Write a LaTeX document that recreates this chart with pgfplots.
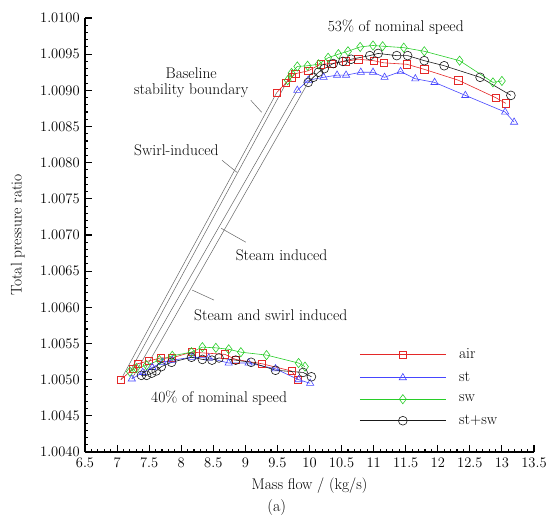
\documentclass[border=0pt]{standalone}
\usepackage{pgfplots}
\pgfplotsset{compat=1.18}
\definecolor{cair}{RGB}{228,40,40}
\definecolor{cst}{RGB}{70,70,255}
\definecolor{csw}{RGB}{40,205,40}
\definecolor{cstsw}{RGB}{25,25,25}
\begin{document}
\fontsize{15.5bp}{18bp}\selectfont
\begin{tikzpicture}
\path[use as bounding box] (-85bp,-73bp) rectangle (462bp,452bp);
\begin{axis}[at={(0,0)}, anchor=south west, scale only axis,
  width=449bp, height=434bp,
  xmin=6.5, xmax=13.5, ymin=1.004, ymax=1.010,
  axis x line*=bottom, axis y line*=left,
  axis line style={line width=1.4pt},
  tick align=inside,
  major tick length=7bp, minor tick length=3.5bp,
  every tick/.style={line width=1.1pt, black},
  minor tick num=4,
  tick label style={font=\fontsize{14.5bp}{17bp}\selectfont},
  xtick={6.5,7,7.5,8,8.5,9,9.5,10,10.5,11,11.5,12,12.5,13,13.5},
  xticklabels={6.5,7,7.5,8,8.5,9,9.5,10,10.5,11,11.5,12,12.5,13,13.5},
  ytick={1.004,1.0045,1.005,1.0055,1.006,1.0065,1.007,1.0075,1.008,1.0085,1.009,1.0095,1.01},
  yticklabels={1.0040,1.0045,1.0050,1.0055,1.0060,1.0065,1.0070,1.0075,1.0080,1.0085,1.0090,1.0095,1.0100},
  scaled y ticks=false,
  xlabel={Mass flow / (kg/s)},
  ylabel={Total pressure ratio},
  xlabel style={yshift=0bp},
  ylabel style={yshift=5bp},
  clip=false,
  legend style={draw=none, fill=none, at={(0.611,0.246)}, anchor=north west,
    row sep=5bp, legend cell align=left, inner sep=0pt,
    nodes={inner sep=3bp},
    /tikz/every odd column/.append style={column sep=10bp}},
  legend image code/.code={\draw[mark repeat=2,mark phase=2] plot coordinates {(0bp,0bp) (43bp,0bp) (86bp,0bp)};},
  every axis plot/.append style={line width=0.6pt},
]
% stability boundary lines
\addplot[gray!80!black, line width=0.5pt, forget plot] coordinates {(7.06,1.00500) (9.49,1.00897)};
\addplot[gray!80!black, line width=0.5pt, forget plot] coordinates {(7.20,1.00511) (9.66,1.00914)};
\addplot[gray!80!black, line width=0.5pt, forget plot] coordinates {(7.23,1.00501) (9.81,1.00900)};
\addplot[gray!80!black, line width=0.5pt, forget plot] coordinates {(7.38,1.00506) (9.98,1.00911)};
% 53% speed
\addplot[cair, mark=square, mark size=3.6bp] coordinates {
(9.49,1.00897) (9.63,1.00910) (9.72,1.00918) (9.78,1.00923) (9.98,1.00927) (10.17,1.00936) (10.34,1.00937) (10.56,1.00940) (10.76,1.00943) (11.00,1.00941) (11.16,1.00938) (11.52,1.00936) (11.79,1.00929) (12.32,1.00914) (12.90,1.00890) (13.06,1.00882)};
\addlegendentry{air}
\addplot[cst, mark=triangle, mark size=4.2bp] coordinates {
(9.81,1.00900) (9.98,1.00914) (10.22,1.00918) (10.43,1.00921) (10.57,1.00921) (10.80,1.00925) (10.99,1.00925) (11.17,1.00918) (11.42,1.00926) (11.65,1.00916) (11.95,1.00911) (12.43,1.00893) (13.05,1.00870) (13.19,1.00856)};
\addlegendentry{st}
\addplot[csw, mark=diamond, mark size=4.6bp] coordinates {
(9.66,1.00914) (9.72,1.00924) (9.81,1.00933) (9.97,1.00934) (10.14,1.00936) (10.29,1.00945) (10.45,1.00950) (10.60,1.00954) (10.79,1.00960) (10.99,1.00962) (11.14,1.00961) (11.47,1.00959) (11.79,1.00954) (12.34,1.00941) (12.86,1.00911) (13.00,1.00913)};
\addlegendentry{sw}
\addplot[cstsw, mark=o, mark size=4.4bp] coordinates {
(9.98,1.00911) (10.06,1.00918) (10.14,1.00925) (10.23,1.00930) (10.37,1.00937) (10.52,1.00940) (10.65,1.00943) (10.94,1.00948) (11.07,1.00951) (11.36,1.00948) (11.53,1.00948) (11.79,1.00941) (12.10,1.00934) (12.66,1.00918) (13.14,1.00893)};
\addlegendentry{st+sw}
% 40% speed
\addplot[cair, mark=square, mark size=3.6bp, forget plot] coordinates {
(7.06,1.00500) (7.25,1.00515) (7.32,1.00522) (7.50,1.00526) (7.68,1.00530) (7.85,1.00530) (8.16,1.00538) (8.34,1.00537) (8.68,1.00535) (8.85,1.00528) (9.26,1.00522) (9.72,1.00512) (9.82,1.00500)};
\addplot[cst, mark=triangle, mark size=4.2bp, forget plot] coordinates {
(7.23,1.00501) (7.40,1.00510) (7.55,1.00517) (7.71,1.00524) (7.86,1.00527) (8.17,1.00531) (8.43,1.00530) (8.74,1.00523) (9.05,1.00523) (9.47,1.00515) (9.83,1.00500) (10.01,1.00495)};
\addplot[csw, mark=diamond, mark size=4.6bp, forget plot] coordinates {
(7.20,1.00511) (7.30,1.00516) (7.46,1.00520) (7.66,1.00527) (7.86,1.00533) (8.16,1.00538) (8.33,1.00545) (8.54,1.00544) (8.74,1.00542) (8.93,1.00538) (9.33,1.00534) (9.83,1.00523) (9.93,1.00518)};
\addplot[cstsw, mark=o, mark size=4.4bp, forget plot] coordinates {
(7.38,1.00506) (7.46,1.00506) (7.54,1.00509) (7.61,1.00512) (7.69,1.00518) (7.85,1.00524) (8.16,1.00531) (8.33,1.00528) (8.48,1.00527) (8.59,1.00530) (8.85,1.00527) (9.09,1.00524) (9.47,1.00513) (9.90,1.00510) (10.03,1.00504)};
% annotations
\node at (axis cs:11.345,1.00987) {53\% of nominal speed};
\node at (axis cs:8.59,1.004746) {40\% of nominal speed};
\node[align=center, inner sep=0pt] at (axis cs:8.156,1.00911) {Baseline\\[-2bp]stability boundary};
\node at (axis cs:7.924,1.008171) {Swirl-induced};
\node at (axis cs:9.565,1.006721) {Steam induced};
\node at (axis cs:9.395,1.005892) {Steam and swirl induced};
\draw[gray!80!black, line width=0.5pt] (axis cs:9.085,1.008862) -- (axis cs:9.255,1.008696);
\draw[gray!80!black, line width=0.5pt] (axis cs:8.636,1.008033) -- (axis cs:8.868,1.007867);
\draw[gray!80!black, line width=0.5pt] (axis cs:9.008,1.006900) -- (axis cs:8.621,1.007094);
\draw[gray!80!black, line width=0.5pt] (axis cs:8.512,1.006100) -- (axis cs:8.172,1.006238);
\node[font=\fontsize{16bp}{18bp}\selectfont] at (rel axis cs:0.427,-0.129) {(a)};
\end{axis}
\end{tikzpicture}
\end{document}
